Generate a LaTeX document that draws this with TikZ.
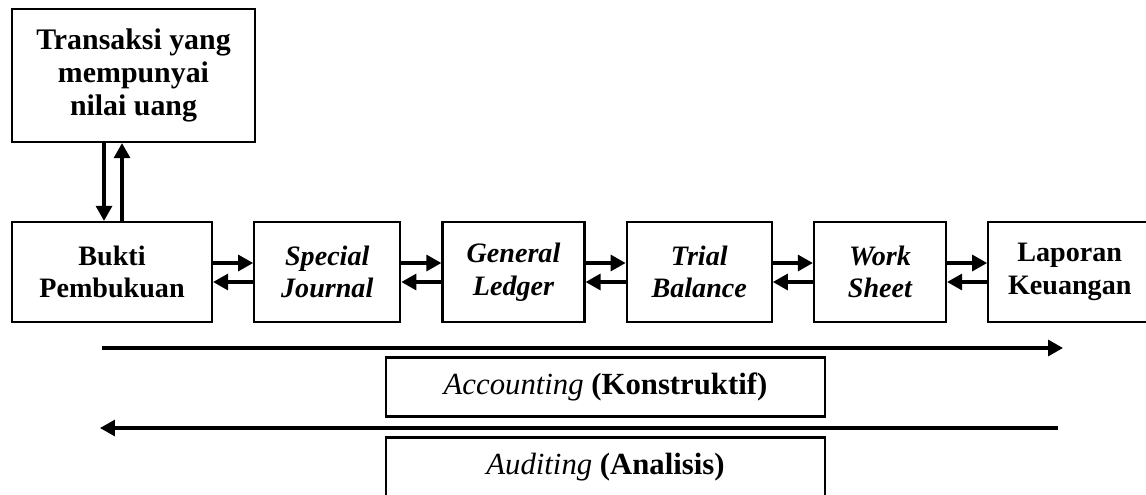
\documentclass[tikz,border=0pt]{standalone}
\usepackage{fontspec}
\setmainfont{Liberation Serif}
\usetikzlibrary{positioning, arrows.meta}

\begin{document}
\begin{tikzpicture}[
      x=0.02cm, y=-0.02cm,
      >={Triangle[length=0.3cm, width=0.32cm]},
      node distance = 0.8cm,
      box/.style = {
        draw,
        line width=1.3pt,
        minimum height=2cm,
        inner sep=2pt,
        align=center,
        font=\fontsize{16}{18.5}\selectfont\bfseries
      },
      ibox/.style = {
        box,
        font=\fontsize{16}{18.5}\selectfont\bfseries\itshape
      },
      phase/.style = {
        draw,
        line width=1.3pt,
        minimum width=8.78cm,
        minimum height=1.18cm,
        font=\fontsize{17.5}{20}\selectfont
      },
      link/.style = {->, line width=1.8pt}
    ]
    \useasboundingbox (0,0) rectangle (1146,494);

    \node[box, minimum width=4.86cm, minimum height=2.66cm,
          font=\fontsize{17}{19}\selectfont\bfseries] (transaksi) at (133.5,75.5)
          {Transaksi yang\\mempunyai\\nilai uang};

    \node[box, minimum width=4cm] (bukti) at (112,272) {Bukti\\Pembukuan};
    \node[ibox, minimum width=2.92cm, right=of bukti]   (journal) {Special\\Journal};
    \node[ibox, minimum width=2.84cm, right=of journal] (ledger)  {General\\Ledger};
    \node[ibox, minimum width=2.9cm,  right=of ledger]  (trial)   {Trial\\Balance};
    \node[ibox, minimum width=2.64cm, right=of trial]   (sheet)   {Work\\Sheet};
    \node[box,  minimum width=3.26cm, right=of sheet]   (laporan) {Laporan\\Keuangan};

    \draw[link] ([xshift=-0.59cm]transaksi.south) -- ([xshift=-0.59cm]transaksi.south |- bukti.north);
    \draw[link] ([xshift=-0.23cm]transaksi.south |- bukti.north) -- ([xshift=-0.23cm]transaksi.south);

    \draw[link] ([yshift=0.18cm]bukti.east)   -- ([yshift=0.18cm]journal.west);
    \draw[link] ([yshift=-0.2cm]journal.west) -- ([yshift=-0.2cm]bukti.east);
    \draw[link] ([yshift=0.18cm]journal.east) -- ([yshift=0.18cm]ledger.west);
    \draw[link] ([yshift=-0.2cm]ledger.west)  -- ([yshift=-0.2cm]journal.east);
    \draw[link] ([yshift=0.18cm]ledger.east)  -- ([yshift=0.18cm]trial.west);
    \draw[link] ([yshift=-0.2cm]trial.west)   -- ([yshift=-0.2cm]ledger.east);
    \draw[link] ([yshift=0.18cm]trial.east)   -- ([yshift=0.18cm]sheet.west);
    \draw[link] ([yshift=-0.2cm]sheet.west)   -- ([yshift=-0.2cm]trial.east);
    \draw[link] ([yshift=0.18cm]sheet.east)   -- ([yshift=0.18cm]laporan.west);
    \draw[link] ([yshift=-0.2cm]laporan.west) -- ([yshift=-0.2cm]sheet.east);

    % proses akuntansi dan audit
    \coordinate (konL) at (102,348);
    \coordinate (konR) at (1063,348);
    \coordinate (anaL) at (100,428);
    \coordinate (anaR) at (1058,428);

    \draw[link] (konL) -- (konR);
    \node[phase] (accounting) at (605.5,387) {\textit{Accounting} \textbf{(Konstruktif)}};

    \draw[link] (anaR) -- (anaL);
    \node[phase] (auditing) at (605.5,467) {\textit{Auditing} \textbf{(Analisis)}};

  \end{tikzpicture}
\end{document}
